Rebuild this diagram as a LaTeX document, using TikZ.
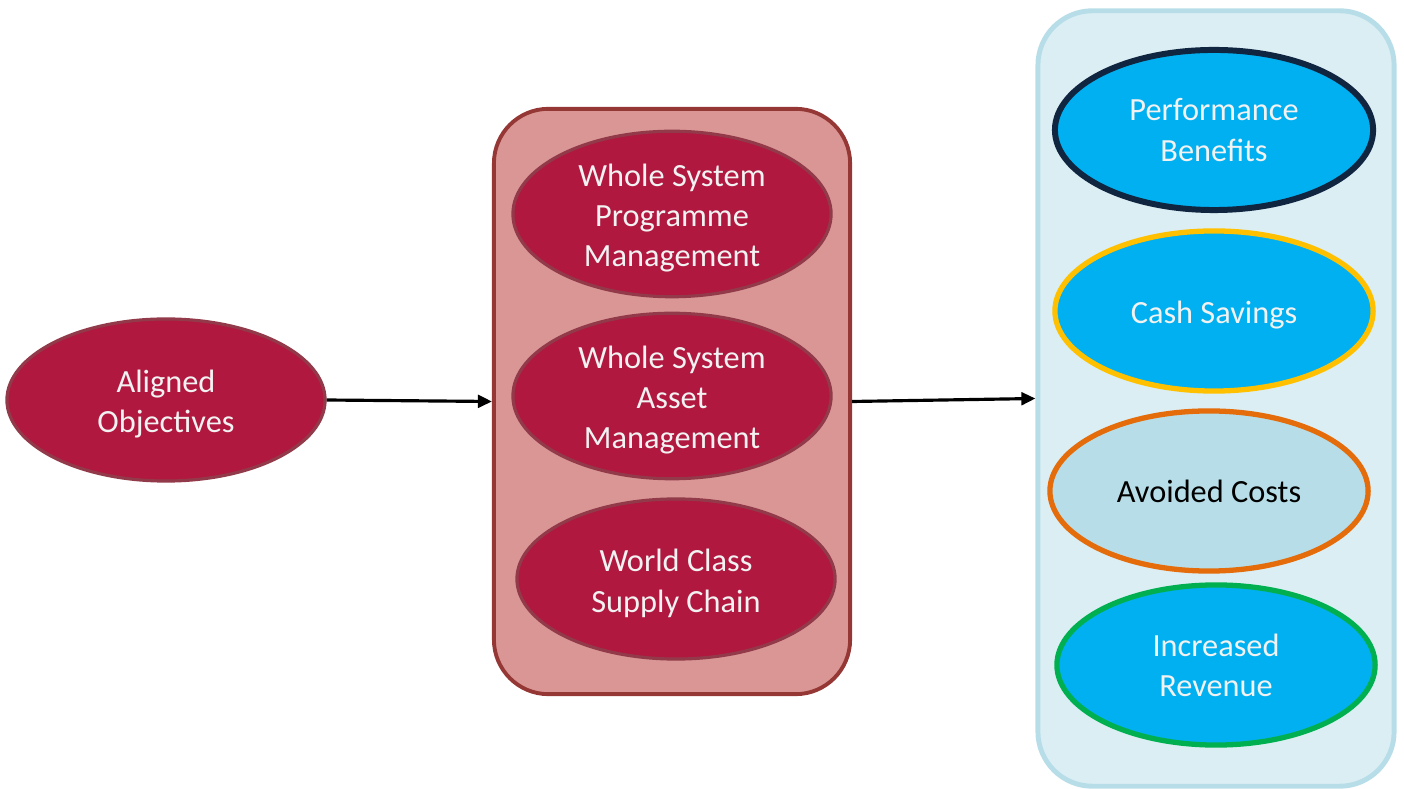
\documentclass[tikz,border=0pt]{standalone}
\usepackage{fontspec}
\setmainfont{Carlito}
\usepackage{xcolor}
\usetikzlibrary{shapes.geometric, arrows.meta, positioning}
\definecolor{crimsonFill}{HTML}{B0183F}
\definecolor{crimsonEdge}{HTML}{923A4A}
\definecolor{roseBox}{HTML}{D99694}
\definecolor{roseEdge}{HTML}{953735}
\definecolor{iceBox}{HTML}{DBEEF4}
\definecolor{iceEdge}{HTML}{B7DEE8}
\definecolor{skyFill}{HTML}{00B0F0}
\definecolor{paleSky}{HTML}{B7DEE8}
\definecolor{navyEdge}{HTML}{10253F}
\definecolor{goldEdge}{HTML}{FFC000}
\definecolor{orangeEdge}{HTML}{E46C0A}
\definecolor{greenEdge}{HTML}{00B050}
\definecolor{paleText}{HTML}{F2F2F2}
\newcommand{\ovalStrut}{\rule{0pt}{8.9pt}}

\begin{document}
\begin{tikzpicture}[
  x=0.01cm, y=-0.01cm,
  every node/.style={font=\fontsize{9.2}{11.4}\selectfont, align=center},
  groupBox/.style={rounded corners=15.5pt, minimum width=3.56cm, inner sep=0pt},
  ovalBase/.style={ellipse, minimum width=3.18cm, minimum height=1.6cm, inner sep=0pt},
  redOval/.style={ovalBase, fill=crimsonFill, draw=crimsonEdge, line width=0.9pt, text=paleText},
  blueOval/.style={ovalBase, fill=skyFill, line width=1.5pt, text=paleText},
  flowArrow/.style={-{Triangle[length=4pt,width=3.6pt]}, line width=0.9pt, black}
]
  \useasboundingbox (0,0) rectangle (1404,789);

  % left objective
  \node[redOval, minimum height=1.62cm] (aligned) at (166,400) {\ovalStrut Aligned\\Objectives};

  % middle group
  \node[groupBox, fill=roseBox, draw=roseEdge, line width=1.1pt, minimum height=5.85cm] (midbox) at (672,401.5) {};
  \node[redOval] (wspm) at (672,214) {\ovalStrut Whole System\\Programme\\Management};
  \node[redOval] (wsam) at (672,396) {\ovalStrut Whole System\\Asset\\Management};
  \node[redOval] (wcsc) at (676,579) {\ovalStrut World Class\\Supply Chain};

  % right group
  \node[groupBox, fill=iceBox, draw=iceEdge, line width=1.4pt, minimum height=7.75cm] (rightbox) at (1216,398.5) {};
  \node[blueOval, draw=navyEdge, line width=1.7pt] (perf) at (1214,130) {Performance\\Benefits};
  \node[blueOval, draw=goldEdge] (cash) at (1214,311) {\ovalStrut Cash Savings};
  \node[blueOval, draw=orangeEdge, fill=paleSky, text=black] (avoid) at (1209,491) {Avoided Costs};
  \node[blueOval, draw=greenEdge] (revenue) at (1216,665) {Increased\\Revenue};

  \draw[flowArrow] (aligned.east) -- (midbox.west);
  \draw[flowArrow] (midbox.east) -- (rightbox.west);

\end{tikzpicture}
\end{document}
